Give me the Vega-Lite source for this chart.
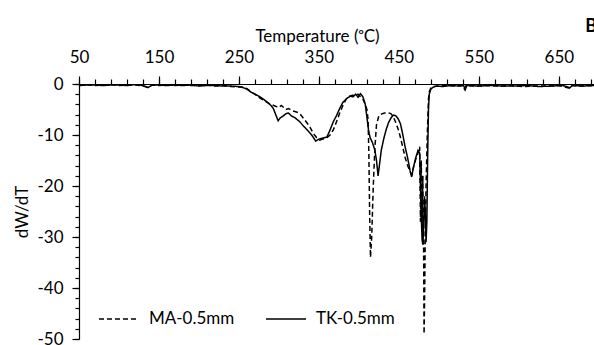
{
  "$schema": "https://vega.github.io/schema/vega-lite/v6.json",
  "width": 515,
  "height": 255,
  "autosize": {"type": "none"},
  "padding": {"left": 79, "top": 84, "right": 0, "bottom": 6},
  "background": "white",
  "title": {"text": "B", "anchor": "end", "frame": "group", "font": "Lato", "fontSize": 18, "fontWeight": "bold", "color": "black", "dx": 3, "dy": 9, "offset": 0},
  "config": {
    "view": {"stroke": null},
    "axis": {"grid": false, "labelFlush": false, "domainColor": "black", "tickColor": "black", "labelColor": "black", "titleColor": "black", "labelFont": "Lato", "titleFont": "Lato", "labelFontSize": 17, "titleFontSize": 17, "titleFontWeight": "normal", "domainWidth": 1.2, "tickWidth": 1.2}
  },
  "datasets": {
    "curves": [
      {"series": "MA-0.5mm", "T": 50, "v": -0.2}, {"series": "MA-0.5mm", "T": 60, "v": -0.1}, {"series": "MA-0.5mm", "T": 70, "v": -0.3}, {"series": "MA-0.5mm", "T": 80, "v": -0.2}, {"series": "MA-0.5mm", "T": 90, "v": -0.1}, {"series": "MA-0.5mm", "T": 100, "v": -0.3}, {"series": "MA-0.5mm", "T": 110, "v": -0.2}, {"series": "MA-0.5mm", "T": 120, "v": -0.2}, {"series": "MA-0.5mm", "T": 130, "v": -0.4}, {"series": "MA-0.5mm", "T": 135, "v": -0.6}, {"series": "MA-0.5mm", "T": 140, "v": -0.2}, {"series": "MA-0.5mm", "T": 150, "v": -0.3}, {"series": "MA-0.5mm", "T": 160, "v": -0.2}, {"series": "MA-0.5mm", "T": 170, "v": -0.3}, {"series": "MA-0.5mm", "T": 180, "v": -0.2}, {"series": "MA-0.5mm", "T": 190, "v": -0.3}, {"series": "MA-0.5mm", "T": 200, "v": -0.3}, {"series": "MA-0.5mm", "T": 210, "v": -0.2}, {"series": "MA-0.5mm", "T": 220, "v": -0.4}, {"series": "MA-0.5mm", "T": 230, "v": -0.3}, {"series": "MA-0.5mm", "T": 240, "v": -0.5}, {"series": "MA-0.5mm", "T": 250, "v": -0.6}, {"series": "MA-0.5mm", "T": 255, "v": -0.6},
      {"series": "MA-0.5mm", "T": 260, "v": -0.9}, {"series": "MA-0.5mm", "T": 265, "v": -1.5}, {"series": "MA-0.5mm", "T": 270, "v": -2.0}, {"series": "MA-0.5mm", "T": 275, "v": -2.6}, {"series": "MA-0.5mm", "T": 280, "v": -3.1}, {"series": "MA-0.5mm", "T": 285, "v": -3.6}, {"series": "MA-0.5mm", "T": 290, "v": -4.0}, {"series": "MA-0.5mm", "T": 295, "v": -4.3}, {"series": "MA-0.5mm", "T": 300, "v": -4.6}, {"series": "MA-0.5mm", "T": 303, "v": -4.2}, {"series": "MA-0.5mm", "T": 306, "v": -4.6}, {"series": "MA-0.5mm", "T": 309, "v": -5.0}, {"series": "MA-0.5mm", "T": 312, "v": -4.8}, {"series": "MA-0.5mm", "T": 316, "v": -5.2}, {"series": "MA-0.5mm", "T": 320, "v": -5.4}, {"series": "MA-0.5mm", "T": 324, "v": -5.6}, {"series": "MA-0.5mm", "T": 327, "v": -6.0}, {"series": "MA-0.5mm", "T": 331, "v": -6.8}, {"series": "MA-0.5mm", "T": 335, "v": -7.6}, {"series": "MA-0.5mm", "T": 339, "v": -8.5}, {"series": "MA-0.5mm", "T": 343, "v": -9.7}, {"series": "MA-0.5mm", "T": 347, "v": -10.5}, {"series": "MA-0.5mm", "T": 351, "v": -11.0}, {"series": "MA-0.5mm", "T": 355, "v": -10.8}, {"series": "MA-0.5mm", "T": 360, "v": -10.5}, {"series": "MA-0.5mm", "T": 364, "v": -10.0}, {"series": "MA-0.5mm", "T": 368, "v": -9.0}, {"series": "MA-0.5mm", "T": 372, "v": -7.4}, {"series": "MA-0.5mm", "T": 376, "v": -5.7}, {"series": "MA-0.5mm", "T": 380, "v": -4.2}, {"series": "MA-0.5mm", "T": 384, "v": -3.0}, {"series": "MA-0.5mm", "T": 388, "v": -2.4}, {"series": "MA-0.5mm", "T": 392, "v": -2.2}, {"series": "MA-0.5mm", "T": 396, "v": -2.3}, {"series": "MA-0.5mm", "T": 399, "v": -2.0}, {"series": "MA-0.5mm", "T": 402, "v": -2.5}, {"series": "MA-0.5mm", "T": 405, "v": -3.0}, {"series": "MA-0.5mm", "T": 408, "v": -4.0}, {"series": "MA-0.5mm", "T": 410, "v": -5.0}, {"series": "MA-0.5mm", "T": 411.5, "v": -7.0}, {"series": "MA-0.5mm", "T": 412.5, "v": -14.0}, {"series": "MA-0.5mm", "T": 413.5, "v": -26.0}, {"series": "MA-0.5mm", "T": 414.5, "v": -34.0}, {"series": "MA-0.5mm", "T": 416, "v": -30.0}, {"series": "MA-0.5mm", "T": 418, "v": -20.0}, {"series": "MA-0.5mm", "T": 420, "v": -12.5}, {"series": "MA-0.5mm", "T": 422, "v": -8.0}, {"series": "MA-0.5mm", "T": 425, "v": -6.2}, {"series": "MA-0.5mm", "T": 428, "v": -5.9}, {"series": "MA-0.5mm", "T": 432, "v": -5.7}, {"series": "MA-0.5mm", "T": 436, "v": -5.6}, {"series": "MA-0.5mm", "T": 440, "v": -5.8}, {"series": "MA-0.5mm", "T": 443, "v": -6.4}, {"series": "MA-0.5mm", "T": 446, "v": -7.5}, {"series": "MA-0.5mm", "T": 449, "v": -8.8}, {"series": "MA-0.5mm", "T": 452, "v": -10.5}, {"series": "MA-0.5mm", "T": 455, "v": -12.5}, {"series": "MA-0.5mm", "T": 458, "v": -14.5}, {"series": "MA-0.5mm", "T": 461, "v": -16.0}, {"series": "MA-0.5mm", "T": 464, "v": -17.2}, {"series": "MA-0.5mm", "T": 466, "v": -17.8}, {"series": "MA-0.5mm", "T": 468, "v": -16.5}, {"series": "MA-0.5mm", "T": 471, "v": -14.8}, {"series": "MA-0.5mm", "T": 474, "v": -13.5}, {"series": "MA-0.5mm", "T": 476, "v": -12.3}, {"series": "MA-0.5mm", "T": 477, "v": -27.0}, {"series": "MA-0.5mm", "T": 478, "v": -15.0}, {"series": "MA-0.5mm", "T": 479, "v": -29.0}, {"series": "MA-0.5mm", "T": 480, "v": -18.0}, {"series": "MA-0.5mm", "T": 481, "v": -34.0}, {"series": "MA-0.5mm", "T": 481.5, "v": -49.0}, {"series": "MA-0.5mm", "T": 482, "v": -44.0}, {"series": "MA-0.5mm", "T": 483, "v": -30.0}, {"series": "MA-0.5mm", "T": 484, "v": -20.0}, {"series": "MA-0.5mm", "T": 485.5, "v": -10.0}, {"series": "MA-0.5mm", "T": 487, "v": -3.0}, {"series": "MA-0.5mm", "T": 488, "v": -1.5}, {"series": "MA-0.5mm", "T": 490, "v": -0.8}, {"series": "MA-0.5mm", "T": 493, "v": -0.5}, {"series": "MA-0.5mm", "T": 500, "v": -0.4}, {"series": "MA-0.5mm", "T": 510, "v": -0.3}, {"series": "MA-0.5mm", "T": 520, "v": -0.4}, {"series": "MA-0.5mm", "T": 530, "v": -0.3}, {"series": "MA-0.5mm", "T": 532, "v": -1.0}, {"series": "MA-0.5mm", "T": 534, "v": -0.3}, {"series": "MA-0.5mm", "T": 545, "v": -0.4}, {"series": "MA-0.5mm", "T": 560, "v": -0.3}, {"series": "MA-0.5mm", "T": 575, "v": -0.4}, {"series": "MA-0.5mm", "T": 590, "v": -0.3}, {"series": "MA-0.5mm", "T": 605, "v": -0.5}, {"series": "MA-0.5mm", "T": 620, "v": -0.4}, {"series": "MA-0.5mm", "T": 635, "v": -0.4}, {"series": "MA-0.5mm", "T": 650, "v": -0.3}, {"series": "MA-0.5mm", "T": 663, "v": -0.8}, {"series": "MA-0.5mm", "T": 665, "v": -0.3}, {"series": "MA-0.5mm", "T": 680, "v": -0.4}, {"series": "MA-0.5mm", "T": 694, "v": -0.3},
      {"series": "TK-0.5mm", "T": 50, "v": -0.3}, {"series": "TK-0.5mm", "T": 60, "v": -0.2}, {"series": "TK-0.5mm", "T": 70, "v": -0.2}, {"series": "TK-0.5mm", "T": 80, "v": -0.3}, {"series": "TK-0.5mm", "T": 90, "v": -0.2}, {"series": "TK-0.5mm", "T": 100, "v": -0.2}, {"series": "TK-0.5mm", "T": 110, "v": -0.3}, {"series": "TK-0.5mm", "T": 120, "v": -0.1}, {"series": "TK-0.5mm", "T": 130, "v": -0.3}, {"series": "TK-0.5mm", "T": 136, "v": -0.7}, {"series": "TK-0.5mm", "T": 142, "v": -0.2}, {"series": "TK-0.5mm", "T": 150, "v": -0.2}, {"series": "TK-0.5mm", "T": 160, "v": -0.3}, {"series": "TK-0.5mm", "T": 170, "v": -0.2}, {"series": "TK-0.5mm", "T": 180, "v": -0.3}, {"series": "TK-0.5mm", "T": 190, "v": -0.2}, {"series": "TK-0.5mm", "T": 200, "v": -0.4}, {"series": "TK-0.5mm", "T": 210, "v": -0.3}, {"series": "TK-0.5mm", "T": 220, "v": -0.3}, {"series": "TK-0.5mm", "T": 230, "v": -0.4}, {"series": "TK-0.5mm", "T": 240, "v": -0.4}, {"series": "TK-0.5mm", "T": 250, "v": -0.5}, {"series": "TK-0.5mm", "T": 255, "v": -0.7},
      {"series": "TK-0.5mm", "T": 260, "v": -1.0}, {"series": "TK-0.5mm", "T": 265, "v": -1.6}, {"series": "TK-0.5mm", "T": 270, "v": -2.0}, {"series": "TK-0.5mm", "T": 275, "v": -2.4}, {"series": "TK-0.5mm", "T": 280, "v": -2.9}, {"series": "TK-0.5mm", "T": 285, "v": -3.5}, {"series": "TK-0.5mm", "T": 290, "v": -4.2}, {"series": "TK-0.5mm", "T": 293, "v": -4.8}, {"series": "TK-0.5mm", "T": 296, "v": -6.0}, {"series": "TK-0.5mm", "T": 299, "v": -7.2}, {"series": "TK-0.5mm", "T": 302, "v": -6.6}, {"series": "TK-0.5mm", "T": 305, "v": -6.3}, {"series": "TK-0.5mm", "T": 309, "v": -5.8}, {"series": "TK-0.5mm", "T": 312, "v": -5.7}, {"series": "TK-0.5mm", "T": 316, "v": -6.3}, {"series": "TK-0.5mm", "T": 320, "v": -6.6}, {"series": "TK-0.5mm", "T": 326, "v": -7.4}, {"series": "TK-0.5mm", "T": 331, "v": -8.3}, {"series": "TK-0.5mm", "T": 336, "v": -9.1}, {"series": "TK-0.5mm", "T": 341, "v": -10.0}, {"series": "TK-0.5mm", "T": 346, "v": -11.2}, {"series": "TK-0.5mm", "T": 350, "v": -10.8}, {"series": "TK-0.5mm", "T": 355, "v": -10.6}, {"series": "TK-0.5mm", "T": 360, "v": -10.4}, {"series": "TK-0.5mm", "T": 364, "v": -9.0}, {"series": "TK-0.5mm", "T": 368, "v": -7.4}, {"series": "TK-0.5mm", "T": 372, "v": -6.2}, {"series": "TK-0.5mm", "T": 376, "v": -4.8}, {"series": "TK-0.5mm", "T": 380, "v": -3.6}, {"series": "TK-0.5mm", "T": 385, "v": -2.8}, {"series": "TK-0.5mm", "T": 389, "v": -2.4}, {"series": "TK-0.5mm", "T": 393, "v": -2.5}, {"series": "TK-0.5mm", "T": 396, "v": -2.0}, {"series": "TK-0.5mm", "T": 399, "v": -2.6}, {"series": "TK-0.5mm", "T": 402, "v": -1.9}, {"series": "TK-0.5mm", "T": 405, "v": -2.5}, {"series": "TK-0.5mm", "T": 408, "v": -4.0}, {"series": "TK-0.5mm", "T": 410, "v": -6.5}, {"series": "TK-0.5mm", "T": 412, "v": -9.0}, {"series": "TK-0.5mm", "T": 414, "v": -10.5}, {"series": "TK-0.5mm", "T": 417, "v": -11.5}, {"series": "TK-0.5mm", "T": 420, "v": -13.0}, {"series": "TK-0.5mm", "T": 422, "v": -15.0}, {"series": "TK-0.5mm", "T": 424, "v": -18.0}, {"series": "TK-0.5mm", "T": 426, "v": -15.5}, {"series": "TK-0.5mm", "T": 428, "v": -13.0}, {"series": "TK-0.5mm", "T": 431, "v": -10.8}, {"series": "TK-0.5mm", "T": 434, "v": -9.0}, {"series": "TK-0.5mm", "T": 437, "v": -7.6}, {"series": "TK-0.5mm", "T": 440, "v": -6.7}, {"series": "TK-0.5mm", "T": 443, "v": -6.1}, {"series": "TK-0.5mm", "T": 446, "v": -6.2}, {"series": "TK-0.5mm", "T": 449, "v": -6.8}, {"series": "TK-0.5mm", "T": 452, "v": -7.8}, {"series": "TK-0.5mm", "T": 455, "v": -10.0}, {"series": "TK-0.5mm", "T": 458, "v": -12.5}, {"series": "TK-0.5mm", "T": 461, "v": -14.5}, {"series": "TK-0.5mm", "T": 464, "v": -17.0}, {"series": "TK-0.5mm", "T": 466, "v": -18.2}, {"series": "TK-0.5mm", "T": 468, "v": -16.5}, {"series": "TK-0.5mm", "T": 471, "v": -14.5}, {"series": "TK-0.5mm", "T": 474, "v": -13.0}, {"series": "TK-0.5mm", "T": 476, "v": -13.5}, {"series": "TK-0.5mm", "T": 477, "v": -20.0}, {"series": "TK-0.5mm", "T": 478, "v": -26.0}, {"series": "TK-0.5mm", "T": 479, "v": -30.5}, {"series": "TK-0.5mm", "T": 480, "v": -31.5}, {"series": "TK-0.5mm", "T": 481, "v": -28.0}, {"series": "TK-0.5mm", "T": 482, "v": -22.0}, {"series": "TK-0.5mm", "T": 483, "v": -25.0}, {"series": "TK-0.5mm", "T": 484, "v": -31.0}, {"series": "TK-0.5mm", "T": 485, "v": -27.0}, {"series": "TK-0.5mm", "T": 486, "v": -14.0}, {"series": "TK-0.5mm", "T": 487, "v": -5.0}, {"series": "TK-0.5mm", "T": 488, "v": -2.0}, {"series": "TK-0.5mm", "T": 490, "v": -1.0}, {"series": "TK-0.5mm", "T": 493, "v": -0.6}, {"series": "TK-0.5mm", "T": 497, "v": -0.4}, {"series": "TK-0.5mm", "T": 505, "v": -0.5}, {"series": "TK-0.5mm", "T": 515, "v": -0.3}, {"series": "TK-0.5mm", "T": 525, "v": -0.4}, {"series": "TK-0.5mm", "T": 531, "v": -0.3}, {"series": "TK-0.5mm", "T": 533, "v": -1.1}, {"series": "TK-0.5mm", "T": 535, "v": -0.3}, {"series": "TK-0.5mm", "T": 550, "v": -0.4}, {"series": "TK-0.5mm", "T": 565, "v": -0.3}, {"series": "TK-0.5mm", "T": 580, "v": -0.4}, {"series": "TK-0.5mm", "T": 595, "v": -0.4}, {"series": "TK-0.5mm", "T": 610, "v": -0.3}, {"series": "TK-0.5mm", "T": 625, "v": -0.5}, {"series": "TK-0.5mm", "T": 640, "v": -0.4}, {"series": "TK-0.5mm", "T": 655, "v": -0.3}, {"series": "TK-0.5mm", "T": 664, "v": -0.7}, {"series": "TK-0.5mm", "T": 667, "v": -0.3}, {"series": "TK-0.5mm", "T": 680, "v": -0.4}, {"series": "TK-0.5mm", "T": 694, "v": -0.3}
    ]
  },
  "data": {"name": "curves"},
  "resolve": {"axis": {"x": "independent", "y": "independent"}},
  "layer": [
    {
      "mark": {"type": "line", "opacity": 0, "clip": true},
      "encoding": {
        "x": {"field": "T", "type": "quantitative", "scale": {"domain": [50, 694], "nice": false, "zero": false},
          "axis": {"orient": "top", "values": [50, 70, 90, 110, 130, 150, 170, 190, 210, 230, 250, 270, 290, 310, 330, 350, 370, 390, 410, 430, 450, 470, 490, 510, 530, 550, 570, 590, 610, 630, 650, 670, 690], "labels": false, "domain": false, "tickSize": 5, "title": null}},
        "y": {"field": "v", "type": "quantitative", "scale": {"domain": [-50, 0], "nice": false},
          "axis": {"orient": "left", "values": [-50, -48, -46, -44, -42, -40, -38, -36, -34, -32, -30, -28, -26, -24, -22, -20, -18, -16, -14, -12, -10, -8, -6, -4, -2, 0], "labels": false, "domain": false, "tickSize": 4, "title": null}},
        "detail": {"field": "series"}
      }
    },
    {
      "mark": {"type": "line", "color": "black", "strokeWidth": 1.5, "clip": true},
      "encoding": {
        "x": {"field": "T", "type": "quantitative",
          "axis": {"orient": "top", "values": [50, 150, 250, 350, 450, 550, 650], "tickSize": 8, "labelPadding": 10, "title": "Temperature (ᵒC)", "titleX": 238, "titleY": -48, "titleBaseline": "middle", "titleAlign": "center"}},
        "y": {"field": "v", "type": "quantitative",
          "axis": {"orient": "left", "values": [-50, -40, -30, -20, -10, 0], "tickSize": 7, "labelPadding": 9, "labelExpr": "datum.value + ''", "title": "dW/dT", "titleX": -57, "titleY": 127.5, "titleBaseline": "middle", "titleAlign": "center", "titleAngle": -90}},
        "strokeDash": {"field": "series", "type": "nominal",
          "scale": {"domain": ["MA-0.5mm", "TK-0.5mm"], "range": [[5, 3], [1, 0]]},
          "legend": {"title": null, "orient": "none", "legendX": 19, "legendY": 214, "direction": "horizontal", "symbolType": "stroke", "symbolSize": 1600, "symbolStrokeColor": "black", "symbolStrokeWidth": 1.5, "labelFont": "Lato", "labelFontSize": 17, "labelColor": "black", "labelOffset": 9, "columnPadding": 28}}
      }
    }
  ]
}
